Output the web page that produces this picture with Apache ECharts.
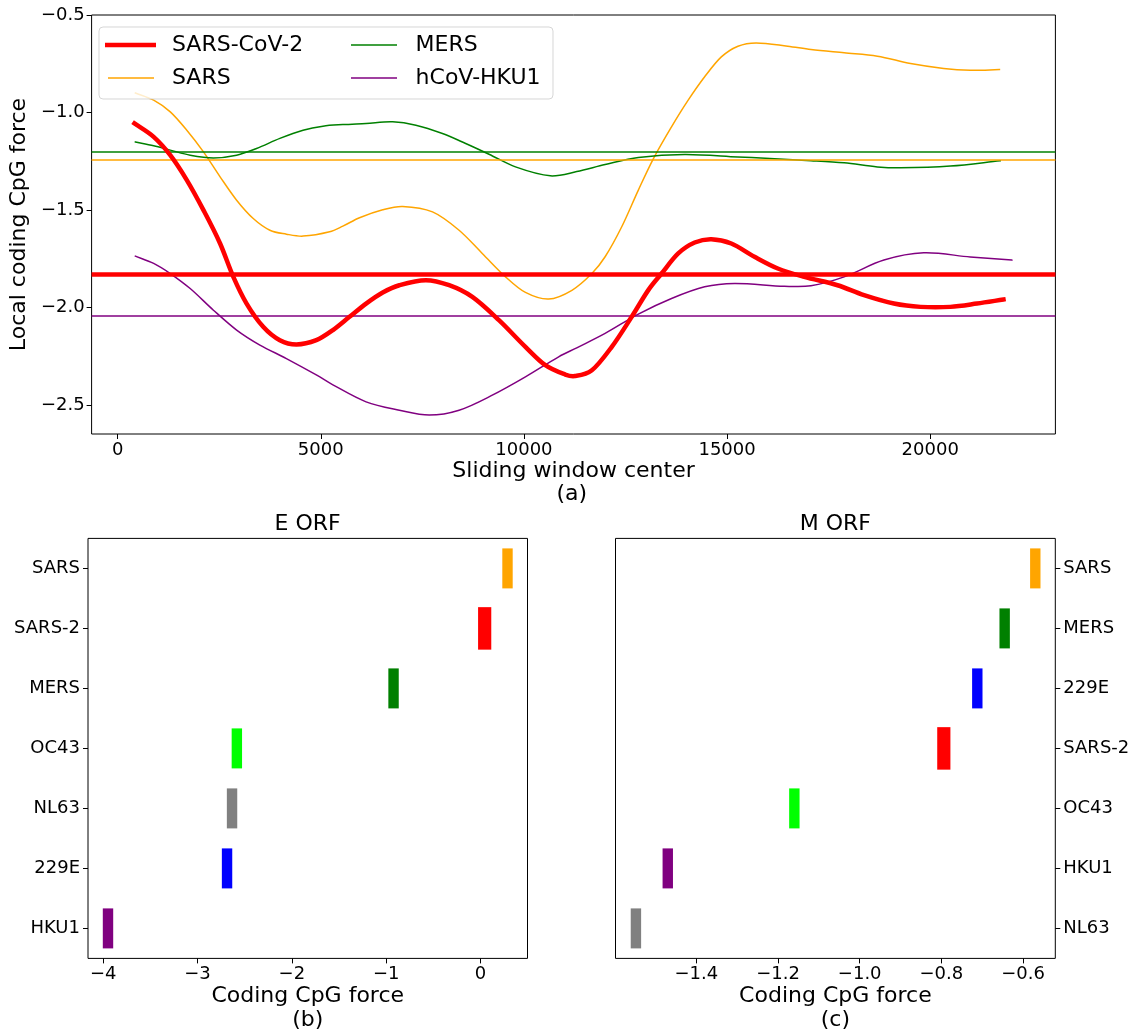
<!DOCTYPE html>
<html><head><meta charset="utf-8">
<script src="https://cdn.jsdelivr.net/npm/echarts@6/dist/echarts.min.js"></script>
<style>html,body{margin:0;padding:0;background:#fff}#c{width:1137px;height:1032px}</style>
</head><body><div id="c"></div>
<script>
// ---------- data ----------
const curveNames = ['SARS-CoV-2', 'SARS', 'MERS', 'hCoV-HKU1'];
const sarsCov2Curve = [[414,-1.056],[887,-1.125],[1296,-1.219],[1703,-1.347],[2113,-1.501],[2522,-1.672],[2848,-1.843],[3174,-1.98],[3583,-2.099],[3993,-2.168],[4400,-2.19],[4890,-2.168],[5299,-2.116],[5708,-2.048],[6115,-1.98],[6525,-1.923],[6934,-1.886],[7586,-1.86],[8159,-1.886],[8730,-1.946],[9385,-2.065],[10037,-2.202],[10527,-2.296],[11017,-2.344],[11250,-2.352],[11672,-2.322],[12162,-2.202],[12652,-2.048],[13061,-1.911],[13387,-1.826],[13797,-1.723],[14203,-1.667],[14613,-1.65],[15103,-1.672],[15674,-1.74],[16248,-1.8],[16900,-1.843],[17718,-1.886],[18370,-1.937],[19105,-1.98],[19760,-1.997],[20495,-1.997],[21150,-1.98],[21802,-1.959]];
const sarsCurve = [[438,-0.9],[887,-0.937],[1296,-0.997],[1703,-1.091],[2113,-1.202],[2522,-1.33],[2929,-1.45],[3338,-1.544],[3748,-1.604],[4154,-1.624],[4564,-1.634],[5218,-1.612],[5544,-1.583],[5953,-1.540],[6525,-1.499],[7015,-1.482],[7750,-1.51],[8404,-1.604],[8975,-1.723],[9547,-1.843],[10037,-1.923],[10610,-1.957],[11181,-1.912],[11672,-1.826],[11998,-1.74],[12407,-1.586],[12816,-1.398],[13184,-1.238],[13632,-1.074],[14042,-0.937],[14448,-0.817],[14858,-0.715],[15267,-0.66],[15716,-0.643],[16492,-0.66],[17064,-0.677],[17880,-0.694],[18699,-0.711],[19515,-0.749],[20331,-0.774],[20985,-0.783],[21703,-0.78]];
const mersCurve = [[438,-1.151],[887,-1.171],[1296,-1.193],[1786,-1.219],[2358,-1.233],[2929,-1.219],[3419,-1.185],[3993,-1.133],[4564,-1.091],[5054,-1.07],[5544,-1.062],[6115,-1.056],[6770,-1.048],[7341,-1.065],[7995,-1.108],[8566,-1.159],[9140,-1.214],[9792,-1.279],[10650,-1.325],[11300,-1.303],[11998,-1.267],[12816,-1.231],[13958,-1.215],[15267,-1.228],[17064,-1.247],[17880,-1.258],[18699,-1.279],[19270,-1.284],[20495,-1.275],[21721,-1.248]];
const hku1Curve = [[438,-1.737],[887,-1.774],[1296,-1.826],[1786,-1.903],[2358,-2.014],[2929,-2.116],[3502,-2.193],[4154,-2.262],[4890,-2.346],[5299,-2.397],[6115,-2.484],[6934,-2.527],[7669,-2.552],[8404,-2.527],[9221,-2.45],[10037,-2.356],[10855,-2.253],[11300,-2.207],[11998,-2.133],[12816,-2.034],[13632,-1.954],[14448,-1.894],[15184,-1.877],[16409,-1.891],[17064,-1.889],[17880,-1.843],[18860,-1.757],[19840,-1.72],[20985,-1.741],[22007,-1.757]];
const curveMeans = [-1.829, -1.239, -1.195, -2.043];
const topXTicks = [0, 5000, 10000, 15000, 20000];
const topYTicks = [-2.5, -2.0, -1.5, -1.0, -0.5];

const eCategories = ['SARS', 'SARS-2', 'MERS', 'OC43', 'NL63', '229E', 'HKU1'];
const eValues = [0.286, 0.044, -0.922, -2.583, -2.634, -2.687, -3.949];
const eTicks = [-4, -3, -2, -1, 0];
const mCategories = ['SARS', 'MERS', '229E', 'SARS-2', 'OC43', 'HKU1', 'NL63'];
const mValues = [-0.570, -0.645, -0.712, -0.794, -1.160, -1.470, -1.548];
const mTicks = [-1.4, -1.2, -1.0, -0.8, -0.6];

// ---------- styles ----------
const FONT = 'DejaVu Sans';
const curveColors = ['#FF0000', '#FFA500', '#008000', '#800080'];
const curveWidths = [4.5, 1.5, 1.5, 1.5];
const virusColor = {'SARS':'#FFA500','SARS-2':'#FF0000','MERS':'#008000','OC43':'#00FF00','NL63':'#808080','229E':'#0000FF','HKU1':'#800080'};

function fmt(d){ return v => (v < 0 ? '\u2212' : '') + Math.abs(v).toFixed(d); }

function valueAxis(gridIndex, min, max, ticks, dec, extra) {
  return Object.assign({
    type: 'value', gridIndex, min, max,
    axisLine: {show: false, onZero: false},
    splitLine: {show: false},
    axisTick: {show: true, length: 5, lineStyle: {color: '#000', width: 1}, customValues: ticks},
    axisLabel: {customValues: ticks, formatter: fmt(dec), fontSize: 18, fontFamily: FONT, color: '#000', margin: 7}
  }, extra || {});
}
function catAxis(gridIndex, cats, position) {
  return {
    type: 'category', gridIndex, data: cats, inverse: true, position,
    axisLine: {show: false, onZero: false},
    splitLine: {show: false},
    axisTick: {show: true, length: 5, alignWithLabel: true, lineStyle: {color: '#000', width: 1}},
    axisLabel: {fontSize: 18, fontFamily: FONT, color: '#000', margin: 8}
  };
}

// Smooth path (cubic Hermite, finite-difference tangents) through screen points from the axis scales
function smoothPath(P) {
  const n = P.length, m = [];
  for (let k = 0; k < n; k++) {
    const a = P[Math.max(k - 1, 0)], b = P[Math.min(k + 1, n - 1)];
    m.push((b[1] - a[1]) / (b[0] - a[0]));
  }
  let d = 'M' + P[0][0] + ',' + P[0][1];
  for (let k = 0; k < n - 1; k++) {
    const h = (P[k + 1][0] - P[k][0]) / 3;
    d += ' C' + (P[k][0] + h) + ',' + (P[k][1] + m[k] * h) + ' ' +
      (P[k + 1][0] - h) + ',' + (P[k + 1][1] - m[k + 1] * h) + ' ' + P[k + 1][0] + ',' + P[k + 1][1];
  }
  return d;
}

const curves = [sarsCov2Curve, sarsCurve, mersCurve, hku1Curve];
const series = [];
curves.forEach((c, i) => {
  series.push({
    name: curveNames[i], type: 'line', xAxisIndex: 0, yAxisIndex: 0,
    data: c, symbol: 'none', z: 2, silent: true,
    lineStyle: {color: curveColors[i], width: curveWidths[i], opacity: 0},
    itemStyle: {color: curveColors[i]},
    markLine: {symbol: 'none', silent: true, label: {show: false},
      lineStyle: {color: curveColors[i], width: curveWidths[i], type: 'solid', opacity: 1},
      data: [{yAxis: curveMeans[i]}]}
  });
  series.push({
    name: curveNames[i], type: 'custom', xAxisIndex: 0, yAxisIndex: 0,
    data: c, z: i === 0 ? 6 : 4, silent: true,
    itemStyle: {color: curveColors[i]},
    renderItem: (params, api) => {
      if (params.dataIndex !== 0) return null;
      const P = c.map(p => api.coord(p));
      return {type: 'path', shape: {pathData: smoothPath(P)},
        style: {fill: 'none', stroke: curveColors[i], lineWidth: curveWidths[i], lineJoin: 'round', lineCap: 'square'}};
    }
  });
});

function markerSeries(values, cats, axIdx) {
  return {
    type: 'scatter', xAxisIndex: axIdx, yAxisIndex: axIdx, symbol: 'rect',
    data: values.map((v, i) => ({
      value: [v, cats[i]],
      symbolSize: cats[i] === 'SARS-2' ? [13.2, 42.5] : [10.4, 40],
      itemStyle: {color: virusColor[cats[i]], opacity: 1}
    }))
  };
}
series.push(markerSeries(eValues, eCategories, 1));
series.push(markerSeries(mValues, mCategories, 2));

const gridBox = {show: true, borderColor: '#000', borderWidth: 1, backgroundColor: 'transparent'};
function legendText(pad) { return {fontSize: 22, fontFamily: FONT, color: '#000', padding: [0, 0, 0, pad], lineHeight: 22}; }
function legendItem(name) { return {name, icon: 'rect'}; }

const option = {
  animation: false,
  backgroundColor: '#fff',
  grid: [
    Object.assign({left: 88, top: 15, width: 967.4, height: 419, containLabel: false}, gridBox),
    Object.assign({left: 88, top: 538.4, width: 439.5, height: 420, containLabel: false}, gridBox),
    Object.assign({left: 615.5, top: 538.4, width: 439.8, height: 420, containLabel: false}, gridBox)
  ],
  xAxis: [
    valueAxis(0, -640, 23080, topXTicks, 0, {name: 'Sliding window center', nameLocation: 'middle', nameGap: 25,
      nameTextStyle: {fontSize: 22, fontFamily: FONT, color: '#000'}}),
    valueAxis(1, -4.161, 0.498, eTicks, 0, {name: 'Coding CpG force', nameLocation: 'middle', nameGap: 27,
      nameTextStyle: {fontSize: 22, fontFamily: FONT, color: '#000'}}),
    valueAxis(2, -1.598, -0.521, mTicks, 1, {name: 'Coding CpG force', nameLocation: 'middle', nameGap: 27,
      nameTextStyle: {fontSize: 22, fontFamily: FONT, color: '#000'}})
  ],
  yAxis: [
    valueAxis(0, -2.649, -0.5, topYTicks, 1, {name: 'Local coding CpG force', nameLocation: 'middle', nameGap: 54,
      nameTextStyle: {fontSize: 22, fontFamily: FONT, color: '#000'}}),
    catAxis(1, eCategories, 'left'),
    catAxis(2, mCategories, 'right')
  ],
  legend: [
    {data: [legendItem('SARS-CoV-2')], left: 105, top: 34, padding: 0, itemWidth: 51, itemHeight: 4.5,
      selectedMode: false, textStyle: legendText(11), z: 10},
    {data: [legendItem('SARS')], left: 108, top: 67, padding: 0, itemWidth: 46, itemHeight: 1.5,
      selectedMode: false, textStyle: legendText(13), z: 10},
    {data: [legendItem('MERS'), legendItem('hCoV-HKU1')], orient: 'vertical', left: 351, top: 34, padding: 0,
      itemWidth: 46, itemHeight: 1.5, itemGap: 11, selectedMode: false, textStyle: legendText(13.6), z: 10}
  ],
  graphic: [
    {type: 'rect', shape: {x: 99, y: 27, width: 454, height: 72, r: 4}, z: 8,
      style: {fill: 'rgba(255,255,255,0.8)', stroke: 'rgba(204,204,204,0.8)', lineWidth: 1}},
    {type: 'text', x: 571.7, y: 494, z: 10, style: {text: '(a)', font: '22px "DejaVu Sans"', fill: '#000', textAlign: 'center', textVerticalAlign: 'middle'}},
    {type: 'text', x: 307.7, y: 524, z: 10, style: {text: 'E ORF', font: '22px "DejaVu Sans"', fill: '#000', textAlign: 'center', textVerticalAlign: 'middle'}},
    {type: 'text', x: 835.4, y: 524, z: 10, style: {text: 'M ORF', font: '22px "DejaVu Sans"', fill: '#000', textAlign: 'center', textVerticalAlign: 'middle'}},
    {type: 'text', x: 307.7, y: 1020, z: 10, style: {text: '(b)', font: '22px "DejaVu Sans"', fill: '#000', textAlign: 'center', textVerticalAlign: 'middle'}},
    {type: 'text', x: 835.4, y: 1020, z: 10, style: {text: '(c)', font: '22px "DejaVu Sans"', fill: '#000', textAlign: 'center', textVerticalAlign: 'middle'}}
  ],
  series
};
const chart = echarts.init(document.getElementById('c'), null, {renderer: 'canvas'});
chart.setOption(option);
</script>
</body></html>
